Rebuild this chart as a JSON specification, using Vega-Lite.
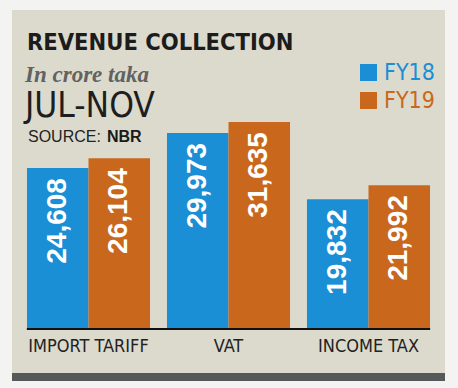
{
  "$schema": "https://vega.github.io/schema/vega-lite/v6.json",
  "width": 433,
  "height": 363,
  "padding": {"left": 12, "top": 10, "right": 13, "bottom": 7},
  "background": "#f3f3f1",
  "config": {"view": {"stroke": null, "fill": "#dcdacd"}},
  "datasets": {
    "revenue": [
      {"category": "IMPORT TARIFF", "year": "FY18", "value": 24608},
      {"category": "IMPORT TARIFF", "year": "FY19", "value": 26104},
      {"category": "VAT", "year": "FY18", "value": 29973},
      {"category": "VAT", "year": "FY19", "value": 31635},
      {"category": "INCOME TAX", "year": "FY18", "value": 19832},
      {"category": "INCOME TAX", "year": "FY19", "value": 21992}
    ]
  },
  "data": {"name": "revenue"},
  "layer": [
    {
      "mark": {"type": "bar"},
      "encoding": {
        "x": {
          "field": "category", "type": "nominal",
          "scale": {"domain": ["IMPORT TARIFF", "VAT", "INCOME TAX"], "paddingInner": 0.121, "paddingOuter": 0.107},
          "axis": {
            "orient": "bottom", "offset": -44, "domain": false, "ticks": false, "tickSize": 0,
            "labelPadding": 8, "labelAngle": 0, "labelFont": "DejaVu Sans Condensed, sans-serif",
            "labelFontSize": 18, "labelColor": "#222222", "title": null, "grid": false
          }
        },
        "xOffset": {"field": "year", "type": "nominal", "scale": {"paddingInner": 0, "paddingOuter": 0}},
        "y": {
          "field": "value", "type": "quantitative",
          "scale": {"domain": [-6728, 48775], "nice": false, "zero": false},
          "axis": null
        },
        "color": {
          "field": "year", "type": "nominal",
          "scale": {"domain": ["FY18", "FY19"], "range": ["#1a8fd6", "#c9681c"]},
          "legend": {
            "orient": "none", "legendX": 345, "legendY": 51, "title": null, "padding": 0,
            "symbolType": "square", "symbolSize": 289, "symbolStrokeWidth": 0, "symbolOpacity": 1,
            "labelFont": "DejaVu Sans Condensed, sans-serif", "labelFontSize": 23,
            "labelOffset": 4, "rowPadding": 4,
            "encode": {"labels": {"update": {"fill": {"scale": "color", "field": "value"}}}}
          }
        }
      }
    },
    {
      "mark": {"type": "text", "angle": 270, "align": "right", "baseline": "middle", "dx": -10,
               "fill": "#ffffff", "font": "Liberation Sans, sans-serif", "fontWeight": "bold", "fontSize": 28},
      "encoding": {
        "x": {"field": "category", "type": "nominal"},
        "xOffset": {"field": "year", "type": "nominal"},
        "y": {"field": "value", "type": "quantitative"},
        "text": {"field": "value", "type": "quantitative", "format": ","}
      }
    },
    {
      "mark": {"type": "rule", "color": "#111111", "strokeWidth": 2},
      "encoding": {
        "x": {"datum": "IMPORT TARIFF", "bandPosition": 0},
        "x2": {"datum": "INCOME TAX", "bandPosition": 1},
        "y": {"datum": 0}
      }
    },
    {
      "mark": {"type": "rect", "color": "#56595a"},
      "encoding": {"y": {"datum": -6728}, "y2": {"datum": -7950}}
    },
    {
      "data": {"values": [{"text": "REVENUE COLLECTION"}]},
      "mark": {"type": "text", "align": "left", "baseline": "alphabetic", "dx": 0,
               "font": "DejaVu Sans Condensed, sans-serif", "fontWeight": "bold", "fontSize": 23.5, "fill": "#1c1c1c"},
      "encoding": {
        "x": {"datum": "IMPORT TARIFF", "bandPosition": 0},
        "y": {"datum": 42659},
        "text": {"field": "text", "type": "nominal"}
      }
    },
    {
      "data": {"values": [{"text": "In crore taka"}]},
      "mark": {"type": "text", "align": "left", "baseline": "alphabetic", "dx": -2,
               "font": "Liberation Serif, serif", "fontStyle": "italic", "fontWeight": "bold", "fontSize": 23, "fill": "#626262"},
      "encoding": {
        "x": {"datum": "IMPORT TARIFF", "bandPosition": 0},
        "y": {"datum": 37766},
        "text": {"field": "text", "type": "nominal"}
      }
    },
    {
      "data": {"values": [{"text": "JUL-NOV"}]},
      "mark": {"type": "text", "align": "left", "baseline": "alphabetic", "dx": -2,
               "font": "DejaVu Sans Condensed, sans-serif", "fontWeight": 300, "fontSize": 35, "fill": "#1e1e1e"},
      "encoding": {
        "x": {"datum": "IMPORT TARIFF", "bandPosition": 0},
        "y": {"datum": 32415},
        "text": {"field": "text", "type": "nominal"}
      }
    },
    {
      "data": {"values": [{"text": "SOURCE:"}]},
      "mark": {"type": "text", "align": "left", "baseline": "alphabetic", "dx": 1,
               "font": "Liberation Sans, sans-serif", "fontSize": 16, "fill": "#222222"},
      "encoding": {
        "x": {"datum": "IMPORT TARIFF", "bandPosition": 0},
        "y": {"datum": 28592},
        "text": {"field": "text", "type": "nominal"}
      }
    },
    {
      "data": {"values": [{"text": "NBR"}]},
      "mark": {"type": "text", "align": "left", "baseline": "alphabetic", "dx": 80,
               "font": "Liberation Sans, sans-serif", "fontWeight": "bold", "fontSize": 16, "fill": "#1a1a1a"},
      "encoding": {
        "x": {"datum": "IMPORT TARIFF", "bandPosition": 0},
        "y": {"datum": 28592},
        "text": {"field": "text", "type": "nominal"}
      }
    }
  ]
}
